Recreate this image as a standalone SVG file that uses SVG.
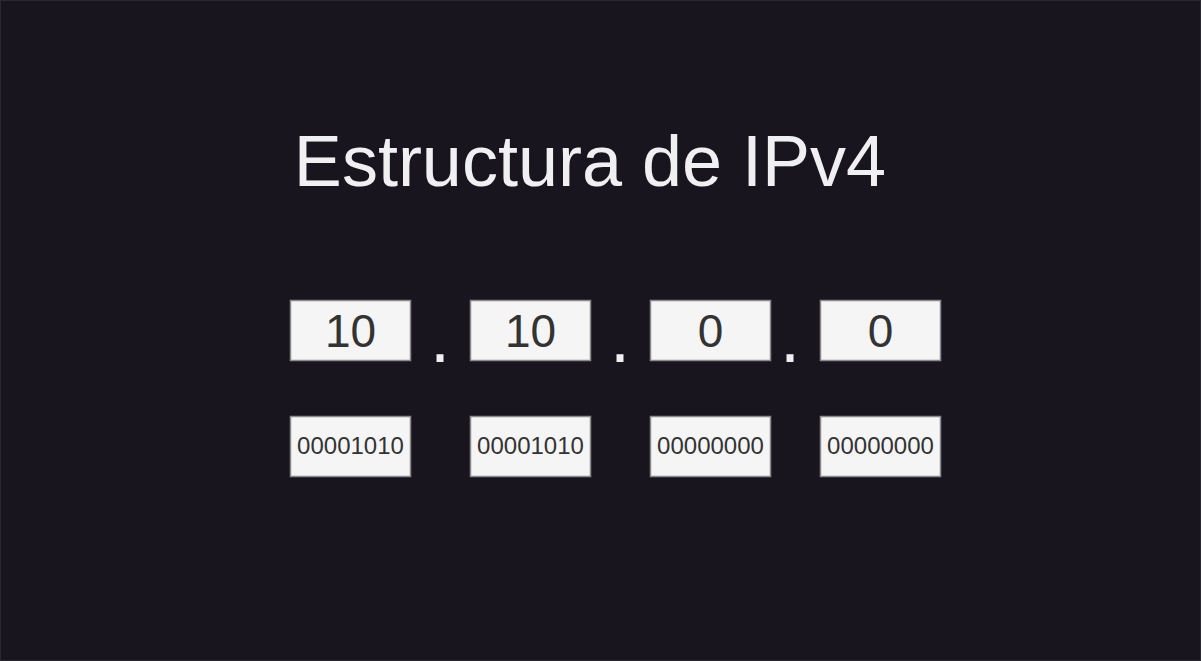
<svg xmlns="http://www.w3.org/2000/svg" width="1201" height="661" viewBox="0 0 1201 661">
<style>
.box{fill:#f5f5f5;stroke:#8a8a8a;stroke-width:1.5}
.t{font-family:"Liberation Sans",Arial,sans-serif;fill:#333;text-anchor:middle}
.big{font-size:46px}
.small{font-size:24px}
.dot{font-family:"Liberation Sans",Arial,sans-serif;fill:#f0eff2;font-size:72px;text-anchor:middle}
</style>
<rect x="0.5" y="0.5" width="1200" height="660" fill="#18151e" stroke="#2a2830"/>
<text x="590" y="186" class="dot" style="font-size:72px">Estructura de IPv4</text>
<g id="oct1"><rect class="box" x="290.5" y="300.5" width="120" height="60"/><text class="t big" x="350.5" y="347">10</text></g>
<g id="oct2"><rect class="box" x="470.5" y="300.5" width="120" height="60"/><text class="t big" x="530.5" y="347">10</text></g>
<g id="oct3"><rect class="box" x="650.5" y="300.5" width="120" height="60"/><text class="t big" x="710.5" y="347">0</text></g>
<g id="oct4"><rect class="box" x="820.5" y="300.5" width="120" height="60"/><text class="t big" x="880.5" y="347">0</text></g>
<g id="dots">
<text class="dot" x="440" y="362">.</text>
<text class="dot" x="620" y="362">.</text>
<text class="dot" x="790" y="362">.</text>
</g>
<g id="bin1"><rect class="box" x="290.5" y="416.5" width="120" height="60"/><text class="t small" x="350.5" y="454">00001010</text></g>
<g id="bin2"><rect class="box" x="470.5" y="416.5" width="120" height="60"/><text class="t small" x="530.5" y="454">00001010</text></g>
<g id="bin3"><rect class="box" x="650.5" y="416.5" width="120" height="60"/><text class="t small" x="710.5" y="454">00000000</text></g>
<g id="bin4"><rect class="box" x="820.5" y="416.5" width="120" height="60"/><text class="t small" x="880.5" y="454">00000000</text></g>
<g id="connectors"/>
</svg>
